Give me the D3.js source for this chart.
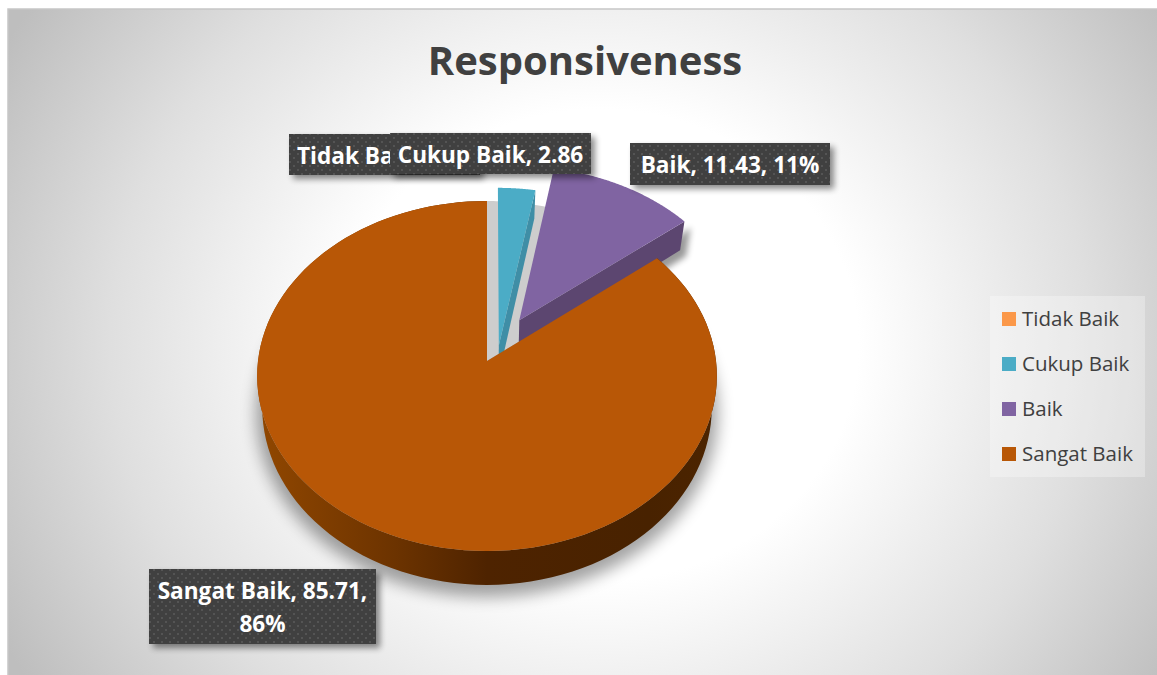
<!DOCTYPE html>
<html>
<head>
<meta charset="utf-8">
<script src="https://d3js.org/d3.v7.min.js"></script>
<style>
  html, body { margin: 0; padding: 0; background: #fff; }
  svg { display: block; }
</style>
</head>
<body>
<svg></svg>
<script>
let categories = ["Tidak Baik", "Cukup Baik", "Baik", "Sangat Baik"];
let values = [0, 2.86, 11.43, 85.71];
let colors = ["#fb9849", "#4bacc6", "#8064a2", "#b85706"];
let sideColors = ["#c87a3a", "#3f8ea6", "#5c4670", "#8a4300"];
// first label is cut off by the second one in the chart, only this much shows
let labelTexts = ["Tidak Ba", "Cukup Baik, 2.86", "Baik, 11.43, 11%", "Sangat Baik, 85.71,|86%"];
let chartTitle = "Responsiveness";

let width = 1157;
let height = 675;
let svg = d3.select("svg").attr("width", width).attr("height", height);
let defs = svg.append("defs");

// the tilted pie: ground plane point (u, v) goes through a small perspective
let cx = 487, cy = 361, radiusX = 229, radiusY = 173.7, persp = 0.0857;
let thick = 31, taper = 0.022;
let project = (u, v, z) => {
  let s = 1 / (1 - persp * v);
  return [cx + radiusX * u * s * (1 - taper * z), cy + radiusY * v * s + thick * z * s];
};

// how far each slice is pulled out of the pie, same plane units
let explode = [[0, 0], [0.052, -0.09], [0.144, -0.24], [0, 0]];

let slices = d3.pie().sort(null).value((d) => d)(values);
let pt = (a, i, z, r = 1) =>
  project(r * Math.sin(a) + explode[i][0], -r * Math.cos(a) + explode[i][1], z);
let arcPts = (a0, a1, i, z) =>
  d3.range(0, 121).map((k) => pt(a0 + ((a1 - a0) * k) / 120, i, z));
let line = d3.line();

// background
let bg = defs.append("radialGradient").attr("id", "bg")
  .attr("gradientUnits", "userSpaceOnUse")
  .attr("cx", 0).attr("cy", 0).attr("r", 1)
  .attr("gradientTransform", "translate(600,345) scale(680,620)");
bg.append("stop").attr("offset", "0.38").attr("stop-color", "#ffffff");
bg.append("stop").attr("offset", "0.72").attr("stop-color", "#dfdfdf");
bg.append("stop").attr("offset", "1").attr("stop-color", "#bebebe");
svg.append("rect").attr("x", 8).attr("y", 9).attr("width", 1152).attr("height", 670)
  .attr("fill", "url(#bg)").attr("stroke", "#c6c6c6").attr("stroke-width", 1.5);

let blur = (id, dev) => defs.append("filter").attr("id", id)
  .attr("x", "-20%").attr("y", "-20%").attr("width", "140%").attr("height", "140%")
  .append("feGaussianBlur").attr("stdDeviation", dev);
blur("soft", 8);
blur("soft2", 3);

// soft shadow under the whole pie
let big = slices[3];
let wallTop = arcPts(big.startAngle, big.endAngle, 3, 0);
let wallBottom = arcPts(big.startAngle, big.endAngle, 3, 1);
svg.append("path")
  .attr("d", line(wallBottom.map((p) => [p[0], p[1] + 6])) + "Z")
  .attr("fill", "#000").attr("stroke", "#000").attr("stroke-width", 12)
  .attr("opacity", 0.36).attr("filter", "url(#soft)");

// grey gap left by the pulled slices
let gap = [project(0, 0, 0)].concat(
  d3.range(0, 61).map((k) => {
    let a = (big.startAngle * k) / 60;
    return project(Math.sin(a), -Math.cos(a), 0);
  }));
svg.append("path").attr("d", line(gap) + "Z").attr("fill", "#cdcdcd");

// pulled slices, back to front
[1, 2].forEach((i) => {
  let s = slices[i];
  let a1 = s.endAngle;
  let vertexTop = pt(0, i, 0, 0);
  let vertexBottom = pt(0, i, 1, 0);
  let rimTop = pt(a1, i, 0);
  let rimBottom = pt(a1, i, 1);
  if (i == 2) {
    svg.append("path")
      .attr("d", line([vertexBottom, rimBottom, rimTop].map((p) => [p[0] + 6, p[1] + 6])) + "Z")
      .attr("fill", "#000").attr("opacity", 0.4).attr("filter", "url(#soft2)");
  }
  svg.append("path").attr("d", line([vertexTop, rimTop, rimBottom, vertexBottom]) + "Z")
    .attr("fill", sideColors[i]);
  svg.append("path").attr("d", line([vertexTop].concat(arcPts(s.startAngle, a1, i, 0))) + "Z")
    .attr("fill", colors[i]);
});

// big slice: wall first, then the top
let wallGrad = defs.append("linearGradient").attr("id", "wall")
  .attr("gradientUnits", "userSpaceOnUse")
  .attr("x1", 257).attr("y1", 0).attr("x2", 717).attr("y2", 0);
[[0, "#914700"], [0.3, "#6c3300"], [0.5, "#4e2300"], [0.85, "#482200"], [1, "#4c2400"]].forEach((d) =>
  wallGrad.append("stop").attr("offset", d[0]).attr("stop-color", d[1]));
svg.append("path").attr("d", line(wallTop.concat(wallBottom.slice().reverse())) + "Z")
  .attr("fill", "url(#wall)");
svg.append("path").attr("d", line([pt(0, 3, 0, 0)].concat(wallTop)) + "Z")
  .attr("fill", colors[3]);

// title
svg.append("text").attr("x", 585).attr("y", 75).attr("text-anchor", "middle")
  .attr("font-family", "Open Sans").attr("font-weight", 700).attr("font-size", 40)
  .attr("fill", "#404040").text(chartTitle);

// data labels
let dots = defs.append("pattern").attr("id", "dots").attr("patternUnits", "userSpaceOnUse")
  .attr("width", 8).attr("height", 8);
dots.append("rect").attr("width", 8).attr("height", 8).attr("fill", "#404040");
[[2, 2], [6, 6]].forEach((d) =>
  dots.append("circle").attr("cx", d[0]).attr("cy", d[1]).attr("r", 1).attr("fill", "#5a5a5a"));

let labelBoxes = [
  { x: 289, y: 134, w: 191, h: 41 },
  { x: 390, y: 133, w: 201, h: 41 },
  { x: 630, y: 143, w: 200, h: 42 },
  { x: 149, y: 569, w: 227, h: 75 },
];
labelBoxes.forEach((b, i) => {
  svg.append("rect").attr("x", b.x + 4).attr("y", b.y + 4).attr("width", b.w).attr("height", b.h)
    .attr("fill", "#000").attr("opacity", 0.45).attr("filter", "url(#soft2)");
  svg.append("rect").attr("x", b.x).attr("y", b.y).attr("width", b.w).attr("height", b.h)
    .attr("fill", "url(#dots)");
  let rows = labelTexts[i].split("|");
  rows.forEach((row, k) => {
    svg.append("text").attr("x", i == 0 ? b.x + 8 : b.x + b.w / 2)
      .attr("y", b.y + 29.5 + k * 33.5)
      .attr("text-anchor", i == 0 ? "start" : "middle")
      .attr("font-family", "Open Sans").attr("font-weight", 700).attr("font-size", 22.6)
      .attr("fill", "#fff").text(row);
  });
});

// legend
svg.append("rect").attr("x", 990).attr("y", 296).attr("width", 155).attr("height", 181)
  .attr("fill", "#fff").attr("opacity", 0.3);
let legendY = d3.scalePoint().domain(categories).range([319, 454]);
categories.forEach((c, i) => {
  svg.append("rect").attr("x", 1002).attr("y", legendY(c) - 7).attr("width", 14).attr("height", 14)
    .attr("fill", colors[i]);
  svg.append("text").attr("x", 1022).attr("y", legendY(c) + 7)
    .attr("font-family", "Open Sans").attr("font-size", 20.5)
    .attr("fill", "#404040").text(c);
});
</script>
</body>
</html>
